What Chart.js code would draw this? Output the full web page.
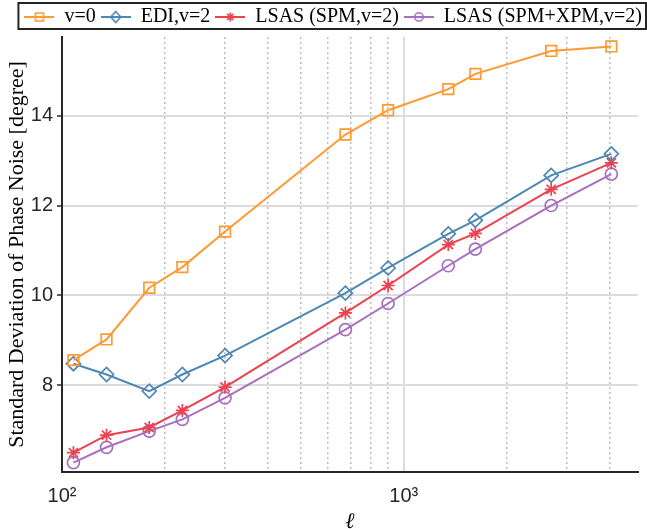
<!DOCTYPE html>
<html>
<head>
<meta charset="utf-8">
<script src="https://cdn.jsdelivr.net/npm/chart.js@4.4.1/dist/chart.umd.min.js"></script>
<style>
  html, body { margin: 0; padding: 0; background: #fff; }
</style>
</head>
<body>
<canvas id="chart" width="647" height="529"></canvas>
<script>
// valores de l (eje x, logaritmico)
const ell = [108, 135, 180, 225, 300, 675, 900, 1350, 1620, 2700, 4050];

// desviacion estandar del ruido de fase [grados]
const noDisp = [8.56, 9.02, 10.17, 10.63, 11.42, 13.58, 14.12, 14.59, 14.93, 15.44, 15.54];
const edi = [8.48, 8.24, 7.87, 8.24, 8.66, 10.05, 10.61, 11.37, 11.67, 12.67, 13.15];
const lsasSpm = [6.50, 6.89, 7.06, 7.44, 7.96, 9.61, 10.22, 11.13, 11.38, 12.36, 12.95];
const lsasSpmXpm = [6.28, 6.62, 6.98, 7.24, 7.72, 9.24, 9.82, 10.66, 11.03, 12.00, 12.70];

const seriesNames = ['v=0', 'EDI,v=2', 'LSAS (SPM,v=2)', 'LSAS (SPM+XPM,v=2)'];

const yTicks = [8, 10, 12, 14];
const xMajorTicks = [100, 1000];
const xMajorLabels = ['10²', '10³'];
const xMinorTicks = [200, 300, 400, 500, 600, 700, 800, 900, 2000, 3000, 4000];

const colors = ['#ff9a33', '#4d87b3', '#ec4150', '#a86fbe'];
const markers = ['rect', 'rectRot', 'star', 'circle'];
const radii = [7.5, 7, 6.5, 6];
const axisColor = '#262626';

// icono de la leyenda: linea + marcador
function legendIcon(color, marker) {
    const c = document.createElement('canvas');
    c.width = 30; c.height = 14;
    const g = c.getContext('2d');
    g.strokeStyle = color;
    g.lineWidth = 2;
    g.beginPath(); g.moveTo(0, 7); g.lineTo(30, 7); g.stroke();
    g.lineWidth = 1.6;
    g.beginPath();
    if (marker === 'rect') {
        g.rect(11, 3, 8, 8);
    } else if (marker === 'rectRot') {
        g.moveTo(15, 1.5); g.lineTo(20, 7); g.lineTo(15, 12.5); g.lineTo(10, 7); g.closePath();
    } else if (marker === 'star') {
        for (let k = 0; k < 4; k++) {
            const a = k * Math.PI / 4;
            g.moveTo(15 - 4.5 * Math.cos(a), 7 - 4.5 * Math.sin(a));
            g.lineTo(15 + 4.5 * Math.cos(a), 7 + 4.5 * Math.sin(a));
        }
    } else {
        g.arc(15, 7, 4.2, 0, Math.PI * 2);
    }
    g.stroke();
    return c;
}

const legendBox = {
    id: 'legendBox',
    afterDraw(chart) {
        const lg = chart.legend;
        if (!lg || !lg.legendHitBoxes || !lg.legendHitBoxes.length) return;
        const hb = lg.legendHitBoxes;
        const left = Math.min(...hb.map(h => h.left)) - 6;
        const right = Math.max(...hb.map(h => h.left + h.width)) + 4;
        const top = hb[0].top - 4;
        const bottom = hb[0].top + hb[0].height + 2;
        const ctx = chart.ctx;
        ctx.save();
        ctx.strokeStyle = axisColor;
        ctx.lineWidth = 2;
        ctx.strokeRect(left, top, right - left, bottom - top);
        ctx.restore();
    }
};

const allSeries = [noDisp, edi, lsasSpm, lsasSpmXpm];

Chart.defaults.font.family = 'Liberation Sans, Arial, sans-serif';
Chart.defaults.color = axisColor;

new Chart(document.getElementById('chart').getContext('2d'), {
    type: 'line',
    data: {
        datasets: allSeries.map((vals, i) => ({
            label: seriesNames[i],
            data: ell.map((x, j) => ({ x: x, y: vals[j] })),
            borderColor: colors[i],
            borderWidth: 2,
            pointStyle: markers[i],
            pointRadius: radii[i],
            pointBorderWidth: 1.7,
            pointBorderColor: colors[i],
            pointBackgroundColor: 'rgba(0,0,0,0)',
            fill: false,
            tension: 0
        }))
    },
    options: {
        responsive: false,
        animation: false,
        devicePixelRatio: 1,
        layout: { padding: { top: 2, left: 0, right: 0, bottom: 0 } },
        plugins: {
            tooltip: { enabled: false },
            legend: {
                position: 'top',
                align: 'end',
                labels: {
                    usePointStyle: true,
                    pointStyleWidth: 30,
                    padding: 5,
                    color: '#000',
                    font: { family: 'Liberation Serif, Times New Roman, serif', size: 20 },
                    generateLabels: (chart) => chart.data.datasets.map((ds, i) => ({
                        text: ds.label,
                        pointStyle: legendIcon(colors[i], markers[i]),
                        fillStyle: colors[i],
                        strokeStyle: colors[i],
                        lineWidth: 0,
                        datasetIndex: i,
                        hidden: false
                    }))
                }
            }
        },
        scales: {
            x: {
                type: 'logarithmic',
                min: 100,
                max: 4840,
                afterBuildTicks: (scale) => {
                    scale.ticks = [...xMajorTicks, ...xMinorTicks]
                        .sort((a, b) => a - b)
                        .map(v => ({ value: v, major: xMajorTicks.includes(v) }));
                },
                afterFit: (scale) => { scale.height = 57; },
                ticks: {
                    autoSkip: false,
                    maxRotation: 0,
                    padding: 12,
                    font: { size: 20 },
                    color: axisColor,
                    callback: (value) => {
                        const k = xMajorTicks.indexOf(value);
                        return k >= 0 ? xMajorLabels[k] : '';
                    }
                },
                grid: {
                    drawTicks: false,
                    color: (ctx) => {
                        if (!ctx.tick) return 'rgba(0,0,0,0)';
                        const v = ctx.tick.value;
                        if (v === xMajorTicks[0]) return 'rgba(0,0,0,0)';
                        return xMajorTicks.includes(v) ? '#dcdcdc' : '#bdbdbd';
                    },
                    lineWidth: (ctx) => (ctx.tick && xMajorTicks.includes(ctx.tick.value)) ? 2 : 1.5
                },
                border: {
                    display: true,
                    color: axisColor,
                    width: 2,
                    dash: (ctx) => (ctx.tick && xMinorTicks.includes(ctx.tick.value)) ? [2, 3] : []
                },
                title: {
                    display: true,
                    text: 'ℓ',
                    color: '#000',
                    font: { family: 'Liberation Serif, DejaVu Serif, serif', size: 22, style: 'italic' },
                    padding: { top: 0, bottom: -6 }
                }
            },
            y: {
                type: 'linear',
                min: 6.07,
                max: 15.75,
                afterBuildTicks: (scale) => {
                    scale.ticks = yTicks.map(v => ({ value: v }));
                },
                afterFit: (scale) => { scale.width = 62; },
                ticks: {
                    padding: 4,
                    font: { size: 20 },
                    color: axisColor
                },
                grid: {
                    color: '#dcdcdc',
                    lineWidth: 2,
                    drawTicks: true,
                    tickLength: 5,
                    tickColor: axisColor,
                    tickWidth: 1.5
                },
                border: { display: true, color: axisColor, width: 2 },
                title: {
                    display: true,
                    text: 'Standard Deviation of Phase Noise [degree]',
                    color: '#000',
                    font: { family: 'Liberation Serif, Times New Roman, serif', size: 22 },
                    padding: { top: 4, bottom: 0 }
                }
            }
        }
    },
    plugins: [legendBox]
});
</script>
</body>
</html>
